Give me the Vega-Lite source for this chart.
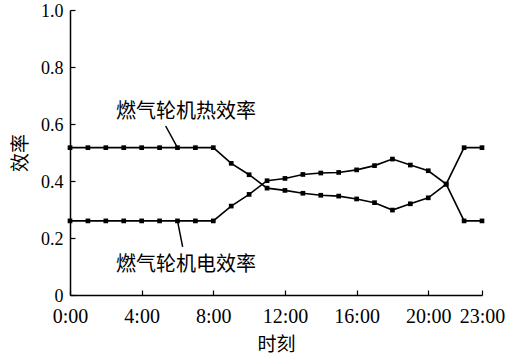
{
  "$schema": "https://vega.github.io/schema/vega-lite/v6.json",
  "width": 412,
  "height": 285,
  "autosize": {"type": "none"},
  "padding": {"left": 70, "top": 10, "right": 27, "bottom": 62},
  "background": "white",
  "config": {
    "view": {"stroke": null},
    "axis": {
      "domainColor": "black",
      "domainWidth": 1.5,
      "tickColor": "black",
      "tickWidth": 1.2,
      "tickSize": -5,
      "grid": false,
      "labelFont": "Liberation Serif",
      "labelFontSize": 18,
      "labelColor": "black",
      "labelOverlap": false,
      "labelBound": false,
      "labelFlush": false,
      "titleFont": "Noto Sans CJK SC",
      "titleFontSize": 19,
      "titleFontWeight": "normal",
      "titleColor": "black"
    }
  },
  "datasets": {
    "series": [
      {"hour": 0, "value": 0.517, "series": "热效率"},
      {"hour": 1, "value": 0.517, "series": "热效率"},
      {"hour": 2, "value": 0.517, "series": "热效率"},
      {"hour": 3, "value": 0.517, "series": "热效率"},
      {"hour": 4, "value": 0.517, "series": "热效率"},
      {"hour": 5, "value": 0.517, "series": "热效率"},
      {"hour": 6, "value": 0.517, "series": "热效率"},
      {"hour": 7, "value": 0.517, "series": "热效率"},
      {"hour": 8, "value": 0.517, "series": "热效率"},
      {"hour": 9, "value": 0.462, "series": "热效率"},
      {"hour": 10, "value": 0.422, "series": "热效率"},
      {"hour": 11, "value": 0.375, "series": "热效率"},
      {"hour": 12, "value": 0.367, "series": "热效率"},
      {"hour": 13, "value": 0.357, "series": "热效率"},
      {"hour": 14, "value": 0.350, "series": "热效率"},
      {"hour": 15, "value": 0.347, "series": "热效率"},
      {"hour": 16, "value": 0.337, "series": "热效率"},
      {"hour": 17, "value": 0.324, "series": "热效率"},
      {"hour": 18, "value": 0.298, "series": "热效率"},
      {"hour": 19, "value": 0.320, "series": "热效率"},
      {"hour": 20, "value": 0.341, "series": "热效率"},
      {"hour": 21, "value": 0.389, "series": "热效率"},
      {"hour": 22, "value": 0.517, "series": "热效率"},
      {"hour": 23, "value": 0.517, "series": "热效率"},
      {"hour": 0, "value": 0.26, "series": "电效率"},
      {"hour": 1, "value": 0.26, "series": "电效率"},
      {"hour": 2, "value": 0.26, "series": "电效率"},
      {"hour": 3, "value": 0.26, "series": "电效率"},
      {"hour": 4, "value": 0.26, "series": "电效率"},
      {"hour": 5, "value": 0.26, "series": "电效率"},
      {"hour": 6, "value": 0.26, "series": "电效率"},
      {"hour": 7, "value": 0.26, "series": "电效率"},
      {"hour": 8, "value": 0.26, "series": "电效率"},
      {"hour": 9, "value": 0.312, "series": "电效率"},
      {"hour": 10, "value": 0.353, "series": "电效率"},
      {"hour": 11, "value": 0.401, "series": "电效率"},
      {"hour": 12, "value": 0.409, "series": "电效率"},
      {"hour": 13, "value": 0.423, "series": "电效率"},
      {"hour": 14, "value": 0.428, "series": "电效率"},
      {"hour": 15, "value": 0.430, "series": "电效率"},
      {"hour": 16, "value": 0.439, "series": "电效率"},
      {"hour": 17, "value": 0.454, "series": "电效率"},
      {"hour": 18, "value": 0.477, "series": "电效率"},
      {"hour": 19, "value": 0.456, "series": "电效率"},
      {"hour": 20, "value": 0.436, "series": "电效率"},
      {"hour": 21, "value": 0.389, "series": "电效率"},
      {"hour": 22, "value": 0.26, "series": "电效率"},
      {"hour": 23, "value": 0.26, "series": "电效率"}
    ],
    "leaders": [
      {"x": 5.34, "y": 0.593, "x2": 6, "y2": 0.517},
      {"x": 6, "y": 0.26, "x2": 6.29, "y2": 0.169}
    ],
    "labels": [
      {"x": 6.48, "y": 0.643, "text": "燃气轮机热效率"},
      {"x": 6.47, "y": 0.105, "text": "燃气轮机电效率"}
    ]
  },
  "layer": [
    {
      "data": {"name": "series"},
      "mark": {"type": "line", "color": "black", "strokeWidth": 1.6, "point": {"shape": "square", "size": 22, "color": "black", "filled": true}},
      "encoding": {
        "x": {
          "field": "hour", "type": "quantitative",
          "scale": {"domain": [0, 23], "nice": false, "zero": false},
          "axis": {
            "values": [0, 4, 8, 12, 16, 20, 23],
            "labelExpr": "datum.value + ':00'",
            "labelFontSize": 20,
            "title": "时刻",
            "titlePadding": 9,
            "labelPadding": 16
          }
        },
        "y": {
          "field": "value", "type": "quantitative",
          "scale": {"domain": [0, 1], "nice": false},
          "axis": {
            "values": [0, 0.2, 0.4, 0.6, 0.8, 1.0],
            "labelExpr": "datum.value == 0 ? '0' : format(datum.value, '.1f')",
            "title": "效率",
            "titlePadding": 10,
            "labelPadding": 12,
            "labelOffset": 1
          }
        },
        "detail": {"field": "series"}
      }
    },
    {
      "data": {"name": "leaders"},
      "mark": {"type": "rule", "color": "black", "strokeWidth": 1.5},
      "encoding": {
        "x": {"field": "x", "type": "quantitative"},
        "y": {"field": "y", "type": "quantitative"},
        "x2": {"field": "x2"},
        "y2": {"field": "y2"}
      }
    },
    {
      "data": {"name": "labels"},
      "mark": {"type": "text", "font": "Noto Sans CJK SC", "fontSize": 20, "color": "black", "align": "center", "baseline": "middle"},
      "encoding": {
        "x": {"field": "x", "type": "quantitative"},
        "y": {"field": "y", "type": "quantitative"},
        "text": {"field": "text"}
      }
    }
  ]
}
